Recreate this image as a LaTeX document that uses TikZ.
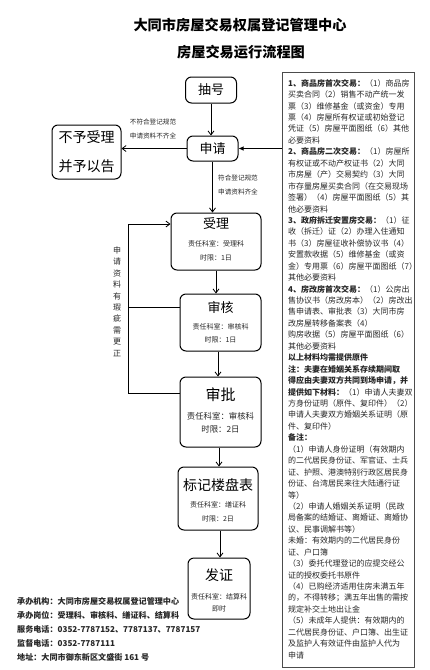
\documentclass[tikz,border=0pt]{standalone}
\usepackage{fontspec}
\setmainfont{Noto Sans CJK SC}
\usetikzlibrary{arrows.meta}
\tikzset{
  box/.style={draw, rounded corners=6pt, line width=1pt},
  ttl/.style={inner sep=0pt, font=\fontsize{13}{13}\selectfont},
  sub/.style={inner sep=0pt, font=\fontsize{7}{7}\selectfont, text=black!85},
  lbl/.style={inner sep=0pt, font=\fontsize{6.6}{6.6}\selectfont, text=black!85},
  arr/.style={draw, line width=0.8pt, -{Straight Barb[length=4pt,width=6pt]}},
  farr/.style={draw, line width=0.8pt, -{Latex[length=5pt,width=4.5pt]}},
  plain/.style={draw, line width=0.8pt},
}
\begin{document}
\begin{tikzpicture}[x=1pt,y=-1pt]
\useasboundingbox (0,0) rectangle (430,670);
% titles
\node[inner sep=0pt, font=\fontsize{14.2}{14.2}\selectfont\bfseries] (t1) at (240,25) {大同市房屋交易权属登记管理中心};
\node[inner sep=0pt, font=\fontsize{14.2}{14.2}\selectfont\bfseries] (t2) at (241,52) {房屋交易运行流程图};

% boxes
\node[box, minimum width=51pt, minimum height=26pt, font=\fontsize{13}{13}\selectfont] (chouhao) at (211,90) {抽号};
\node[box, minimum width=51pt, minimum height=25pt, font=\fontsize{13}{13}\selectfont] (shenqing) at (212.5,148.5) {申请};
\node[box, minimum width=69pt, minimum height=54pt, align=center, font=\fontsize{14}{29}\selectfont] (buyu) at (86.5,152) {不予受理\\并予以告};

\node[box, minimum width=90pt, minimum height=57pt] (shouli) at (216,241.5) {};
\node[ttl] (shouliT) at (216,224) {受理};
\node[sub] (shouliA) at (216,244) {责任科室：受理科};
\node[sub] (shouliB) at (216,258) {时限：1日};

\node[box, minimum width=81pt, minimum height=57pt] (shenhe) at (220.5,322.5) {};
\node[ttl] (shenheT) at (220.5,308) {审核};
\node[sub] (shenheA) at (220.5,327) {责任科室：审核科};
\node[sub] (shenheB) at (220.5,340) {时限：1日};

\node[box, minimum width=81pt, minimum height=70pt] (shenpi) at (220.5,412) {};
\node[ttl, font=\fontsize{15}{15}\selectfont] (shenpiT) at (220.5,395) {审批};
\node[sub, font=\fontsize{8.4}{8.4}\selectfont] (shenpiA) at (220.5,416) {责任科室：审核科};
\node[sub, font=\fontsize{8.4}{8.4}\selectfont] (shenpiB) at (220.5,429) {时限：2日};

\node[box, minimum width=80pt, minimum height=63pt] (biaoji) at (218,498.5) {};
\node[ttl, font=\fontsize{14}{14}\selectfont] (biaojiT) at (218,485) {标记楼盘表};
\node[sub] (biaojiA) at (218,505) {责任科室：缮证科};
\node[sub] (biaojiB) at (218,519) {时限：2日};

\node[box, minimum width=62pt, minimum height=61pt] (fazheng) at (219,588.5) {};
\node[ttl, font=\fontsize{14}{14}\selectfont] (fazhengT) at (219,575) {发证};
\node[sub] (fazhengA) at (219,597) {责任科室：结算科};
\node[sub] (fazhengB) at (219,609) {即时};

% right materials box
\node[draw=black!70, line width=0.9pt, minimum width=132pt, minimum height=595pt, inner sep=0pt] (rbox) at (348,369.5) {};
\node[anchor=north west, inner sep=0pt, align=left, font=\fontsize{8}{11.44}\selectfont, text=black!85] (rtext) at (288,79) {%
\textbf{1、商品房首次交易：}（1）商品房\\
买卖合同（2）销售不动产统一发\\
票（3）维修基金（或资金）专用\\
票（4）房屋所有权证或初始登记\\
凭证（5）房屋平面图纸（6）其他\\
必要资料\\
\textbf{2、商品房二次交易：}（1）房屋所\\
有权证或不动产权证书（2）大同\\
市房屋（产）交易契约（3）大同\\
市存量房屋买卖合同（在交易现场\\
签署）（4）房屋平面图纸（5）其\\
他必要资料\\
\textbf{3、政府拆迁安置房交易：}（1）征\\
收（拆迁）证（2）办理入住通知\\
书（3）房屋征收补偿协议书（4）\\
安置款收据（5）维修基金（或资\\
金）专用票（6）房屋平面图纸（7）\\
其他必要资料\\
\textbf{4、房改房首次交易：}（1）公房出\\
售协议书（房改房本）（2）房改出\\
售申请表、审批表（3）大同市房\\
改房屋转移备案表（4）\\
购房收据（5）房屋平面图纸（6）\\
其他必要资料\\
\textbf{以上材料均需提供原件}\\
\textbf{注：夫妻在婚姻关系存续期间取}\\
\textbf{得应由夫妻双方共同到场申请，并}\\
\textbf{提供如下材料：}（1）申请人夫妻双\\
方身份证明（原件、复印件）（2）\\
申请人夫妻双方婚姻关系证明（原\\
件、复印件）\\
\textbf{备注：}\\
（1）申请人身份证明（有效期内\\
的二代居民身份证、军官证、士兵\\
证、护照、港澳特别行政区居民身\\
份证、台湾居民来往大陆通行证\\
等）\\
（2）申请人婚姻关系证明（民政\\
局备案的结婚证、离婚证、离婚协\\
议、民事调解书等）\\
未婚：有效期内的二代居民身份\\
证、户口簿\\
（3）委托代理登记的应提交经公\\
证的授权委托书原件\\
（4）已购经济适用住房未满五年\\
的，不得转移；满五年出售的需按\\
规定补交土地出让金\\
（5）未成年人提供：有效期内的\\
二代居民身份证、户口簿、出生证\\
及监护人有效证件由监护人代为\\
申请};

% bottom-left info
\node[anchor=north west, inner sep=0pt, align=left, font=\fontsize{8.1}{14}\selectfont\bfseries, text=black!85] (info) at (17,597) {%
承办机构：大同市房屋交易权属登记管理中心\\
承办岗位：受理科、审核科、缮证科、结算科\\
服务电话：0352-7787152、7787137、7787157\\
监督电话：0352-7787111\\
地址：大同市御东新区文盛街 161 号};

% connectors
\draw[arr] (chouhao.south) -- (chouhao.south |- shenqing.north);
\draw[arr] (shenqing.west) -- (buyu.east |- shenqing.west);
\node[lbl] (n1) at (153,122) {不符合登记规范};
\node[lbl] (n2) at (153,136) {申请资料不齐全};
\draw[farr] (rbox.west |- shenqing.east) -- (shenqing.east);
\draw[arr] (shenqing.south) -- (shenqing.south |- shouli.north);
\node[lbl, anchor=west] (y1) at (218,178) {符合登记规范};
\node[lbl, anchor=west] (y2) at (218,192) {申请资料齐全};
\draw[arr] (shouli.south) -- (shouli.south |- shenhe.north);
\draw[arr] ([xshift=-2.5pt]shenhe.south) -- ([xshift=-2.5pt]shenhe.south |- shenpi.north);
\draw[arr] ([xshift=-1.5pt]shenpi.south) -- ([xshift=-1.5pt]shenpi.south |- biaoji.north);
\draw[arr] ([xshift=2pt]biaoji.south) -- ([xshift=2pt]biaoji.south |- fazheng.north);

% return loop
\coordinate (lb) at (128,300);
\draw[arr] ([yshift=19pt]shenpi.west) -- ([yshift=19pt]shenpi.west -| lb) |- ([yshift=17.5pt]shouli.west);
\draw[plain] ([yshift=15pt]shenhe.west) -- ([yshift=15pt]shenhe.west -| lb);
\node[inner sep=0pt, align=center, font=\fontsize{8}{11.4}\selectfont, text=black!85] (vt) at (117,301.5) {申\\请\\资\\料\\有\\瑕\\疵\\需\\更\\正};
\end{tikzpicture}
\end{document}
